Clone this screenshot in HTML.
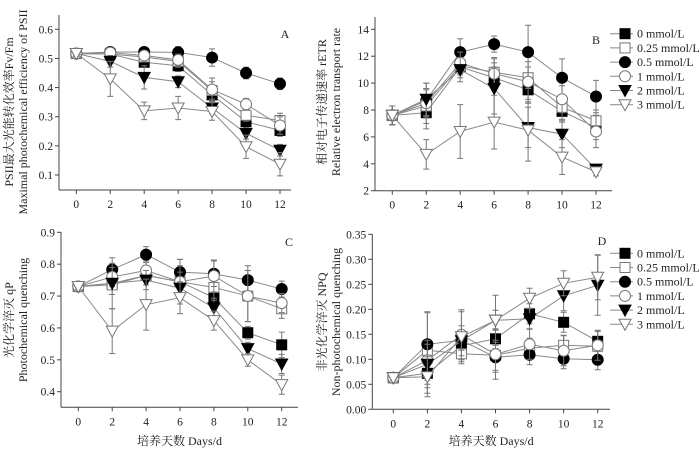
<!DOCTYPE html>
<html><head><meta charset="utf-8">
<style>
html,body{margin:0;padding:0;background:#fff;}
svg{display:block;font-family:"Liberation Serif","Noto Serif CJK SC",serif;}
</style></head>
<body>
<svg id="chart" width="700" height="449" viewBox="0 0 700 449" xmlns="http://www.w3.org/2000/svg" font-family="Liberation Serif, Noto Serif CJK SC, serif"></svg>
<script>
const days = [0,2,4,6,8,10,12];
const seriesNames = ["0 mmol/L","0.25 mmol/L","0.5 mmol/L","1 mmol/L","2 mmol/L","3 mmol/L"];
const markerTypes = ["sqF","sqO","ciF","ciO","trF","trO"];

const fvfmValues = [
 [0.517,0.515,0.487,0.475,0.375,0.283,0.253],
 [0.517,0.515,0.505,0.49,0.39,0.305,0.287],
 [0.517,0.522,0.522,0.521,0.503,0.45,0.413],
 [0.517,0.52,0.51,0.495,0.393,0.343,0.27],
 [0.517,0.49,0.435,0.42,0.33,0.243,0.185],
 [0.517,0.43,0.32,0.33,0.318,0.197,0.137]];
const fvfmErr = [
 [0.01,0.01,0.015,0.02,0.02,0.02,0.02],
 [0.01,0.01,0.01,0.02,0.03,0.02,0.025],
 [0.01,0.01,0.01,0.02,0.03,0.02,0.02],
 [0.01,0.01,0.01,0.02,0.04,0.02,0.03],
 [0.01,0.02,0.04,0.02,0.02,0.02,0.02],
 [0.01,0.06,0.03,0.04,0.03,0.04,0.04]];

const etrValues = [
 [7.6,7.8,11.2,10.4,9.5,7.9,6.7],
 [7.6,8.3,11.3,10.8,10.4,8.2,7.2],
 [7.6,8.7,12.3,12.9,12.3,10.4,9.0],
 [7.6,8.5,11.5,10.7,10.1,8.8,6.4],
 [7.6,8.8,11.0,9.6,6.7,6.2,3.6],
 [7.6,4.7,6.4,7.1,6.5,4.5,3.4]];
const etrErr = [
 [0.7,1.2,0.8,0.8,1.0,0.8,0.9],
 [0.7,1.3,0.7,1.0,0.8,0.9,0.8],
 [0.7,1.3,1.0,0.6,2.0,1.4,1.2],
 [0.7,1.0,0.8,1.2,1.5,1.0,1.2],
 [0.7,1.2,0.9,1.9,1.5,1.0,0.3],
 [0.7,1.1,2.0,2.0,2.3,1.3,0.3]];

const qpValues = [
 [0.73,0.74,0.765,0.745,0.695,0.585,0.547],
 [0.73,0.735,0.765,0.745,0.727,0.70,0.66],
 [0.73,0.783,0.83,0.775,0.77,0.75,0.722],
 [0.73,0.76,0.78,0.745,0.763,0.70,0.678],
 [0.73,0.74,0.75,0.725,0.663,0.535,0.487],
 [0.73,0.59,0.673,0.695,0.623,0.50,0.422]];
const qpErr = [
 [0.01,0.02,0.02,0.04,0.03,0.02,0.04],
 [0.01,0.03,0.03,0.05,0.04,0.08,0.03],
 [0.01,0.02,0.025,0.04,0.04,0.045,0.025],
 [0.01,0.03,0.03,0.07,0.05,0.08,0.03],
 [0.01,0.08,0.03,0.05,0.03,0.02,0.03],
 [0.01,0.07,0.08,0.05,0.03,0.02,0.03]];

const npqValues = [
 [0.063,0.072,0.127,0.141,0.191,0.174,0.136],
 [0.063,0.118,0.111,0.108,0.122,0.128,0.126],
 [0.063,0.130,0.138,0.104,0.109,0.101,0.099],
 [0.063,0.098,0.149,0.110,0.130,0.117,0.128],
 [0.063,0.090,0.137,0.178,0.181,0.227,0.248],
 [0.063,0.065,0.145,0.178,0.222,0.252,0.264]];
const npqErr = [
 [0.005,0.04,0.02,0.02,0.02,0.02,0.02],
 [0.005,0.075,0.02,0.03,0.02,0.02,0.03],
 [0.005,0.065,0.02,0.03,0.02,0.02,0.02],
 [0.005,0.04,0.05,0.05,0.03,0.03,0.03],
 [0.005,0.04,0.03,0.02,0.02,0.03,0.06],
 [0.005,0.04,0.05,0.05,0.02,0.025,0.045]];

const fvfmTicks = [0.1,0.2,0.3,0.4,0.5,0.6];
const etrTicks = [2,4,6,8,10,12,14];
const qpTicks = [0.4,0.5,0.6,0.7,0.8,0.9];
const npqTicks = [0,0.05,0.10,0.15,0.20,0.25,0.30,0.35];

const NS="http://www.w3.org/2000/svg";
const svg=document.getElementById('chart');
function mk(tag,attrs,parent){const e=document.createElementNS(NS,tag);for(const k in attrs)e.setAttribute(k,attrs[k]);(parent||svg).appendChild(e);return e;}

function panel(o){
  const g=mk('g',{});
  
  
  const sx=d=>o.x0+(d-0)*(o.x12-o.x0)/12;
  const sy=v=>o.yA+(v-o.vA)*(o.yB-o.yA)/(o.vB-o.vA);
  const ya=mk('line',{x1:o.axX,y1:o.axTop,x2:o.axX,y2:o.axY,stroke:'#444','stroke-width':1},g);
  
  
  const xa=mk('line',{x1:o.axX,y1:o.axY,x2:o.axRight,y2:o.axY,stroke:'#444','stroke-width':1},g);
  
  
  o.ticks.forEach(t=>{
    const y=sy(t);
    mk('line',{x1:o.axX-4,y1:y,x2:o.axX,y2:y,stroke:'#444'},g);
    const tx=mk('text',{x:o.axX-6,y:y+4,'text-anchor':'end','font-size':11.5,fill:'#222'},g);
    tx.textContent=o.fmt(t);
    
    
  });
  days.forEach(d=>{
    const x=sx(d);
    mk('line',{x1:x,y1:o.axY,x2:x,y2:o.axY+4,stroke:'#444'},g);
    const tx=mk('text',{x:x,y:o.axY+18,'text-anchor':'middle','font-size':11.5,fill:'#222'},g);
    tx.textContent=d;
    
    
  });
  const pl=mk('text',{x:o.letterX,y:o.letterY,'text-anchor':'middle','font-size':12,fill:'#222'},g);
  pl.textContent=o.letter;
  
  
  const cy=o.titleY;
  o.titleLines.forEach((t,i)=>{
    const x=o.titleX+i*14;
    const tt=mk('text',{x:x,y:cy,'text-anchor':'middle','font-size':12,fill:'#222',transform:`rotate(-90 ${x} ${cy})`},g);
    tt.textContent=t;
    
    
  });
  if(o.xTitle){
    const xt=mk('text',{x:(o.axX+o.axRight)/2,y:445,'text-anchor':'middle','font-size':12,fill:'#222'},g);
    xt.textContent='培养天数 Days/d';
    
    
  }
  o.vals.forEach((vs,si)=>{
    const sg=mk('g',{},g);
    
    
    const pts=vs.map((v,i)=>sx(days[i])+','+sy(v)).join(' ');
    mk('polyline',{points:pts,fill:'none',stroke:'#888','stroke-width':1},sg);
    vs.forEach((v,i)=>{
      const x=sx(days[i]),e=o.err[si][i];
      const y1=sy(v+e),y2=sy(v-e);
      const eb=mk('path',{d:`M${x},${y1}V${y2}M${x-3},${y1}H${x+3}M${x-3},${y2}H${x+3}`,stroke:'#777','stroke-width':1,fill:'none'},sg);
      
      
    });
    vs.forEach((v,i)=>{
      const m=marker(markerTypes[si],sx(days[i]),sy(v),sg);
      
      
    });
  });
  if(o.legend){
    const lg=mk('g',{},g);
    
    
    seriesNames.forEach((n,i)=>{
      const y=o.legend.y+i*14.2;
      const eg=mk('g',{},lg);
      
      
      mk('line',{x1:o.legend.x-15,y1:y,x2:o.legend.x+8,y2:y,stroke:'#888'},eg);
      marker(markerTypes[i],o.legend.x,y,eg);
      const t=mk('text',{x:o.legend.x+12,y:y+4,'font-size':12,fill:'#222'},eg);
      t.textContent=n;
    });
  }
}
function marker(t,x,y,p){
  const r=5;
  const fill=t.endsWith('F')?'#000':'#fff';
  if(t.startsWith('sq'))return mk('rect',{x:x-r,y:y-r,width:2*r,height:2*r,fill:fill,stroke:t.endsWith('F')?'#000':'#777'},p);
  if(t.startsWith('ci'))return mk('circle',{cx:x,cy:y,r:r+0.5,fill:fill,stroke:t.endsWith('F')?'#000':'#777'},p);
  return mk('polygon',{points:`${x-6},${y-5} ${x+6},${y-5} ${x},${y+6}`,fill:fill,stroke:t.endsWith('F')?'#000':'#777'},p);
}

panel({name:'panel-a-fvfm',x0:76.3,x12:280,axX:59,axY:190,axTop:15,axRight:291,
  yA:29.3,vA:0.6,yB:175,vB:0.1,ticks:fvfmTicks,fmt:v=>v.toFixed(1),
  vals:fvfmValues,err:fvfmErr,letter:'A',letterX:285,letterY:38,
  titleX:13,titleY:112,titleLines:['PSII最大光能转化效率Fv/Fm','Maximal photochemical efficiency of PSII']});
panel({name:'panel-b-etr',x0:392.3,x12:596,axX:375,axY:190.7,axTop:17,axRight:612,
  yA:29.3,vA:14,yB:190.7,vB:2,ticks:etrTicks,fmt:v=>String(v),
  vals:etrValues,err:etrErr,letter:'B',letterX:596,letterY:44,
  titleX:326,titleY:102,titleLines:['相对电子传递速率 rETR','Relative electron transport rate'],
  legend:{x:625,y:33.7}});
panel({name:'panel-c-qp',x0:78.3,x12:281.7,axX:61,axY:407.3,axTop:232,axRight:298,
  yA:232.3,vA:0.9,yB:391.7,vB:0.4,ticks:qpTicks,fmt:v=>v.toFixed(1),
  vals:qpValues,err:qpErr,letter:'C',letterX:289,letterY:246,
  titleX:13,titleY:320,titleLines:['光化学淬灭 qP','Photochemical quenching'],xTitle:true});
panel({name:'panel-d-npq',x0:393.3,x12:597.7,axX:372.3,axY:409.3,axTop:234,axRight:610,
  yA:234.3,vA:0.35,yB:409.3,vB:0,ticks:npqTicks,fmt:v=>v.toFixed(2),
  vals:npqValues,err:npqErr,letter:'D',letterX:602,letterY:245,
  titleX:326,titleY:322,titleLines:['非光化学淬灭 NPQ','Non-photochemical quenching'],xTitle:true,
  legend:{x:625,y:253.3}});
</script>
</body></html>
